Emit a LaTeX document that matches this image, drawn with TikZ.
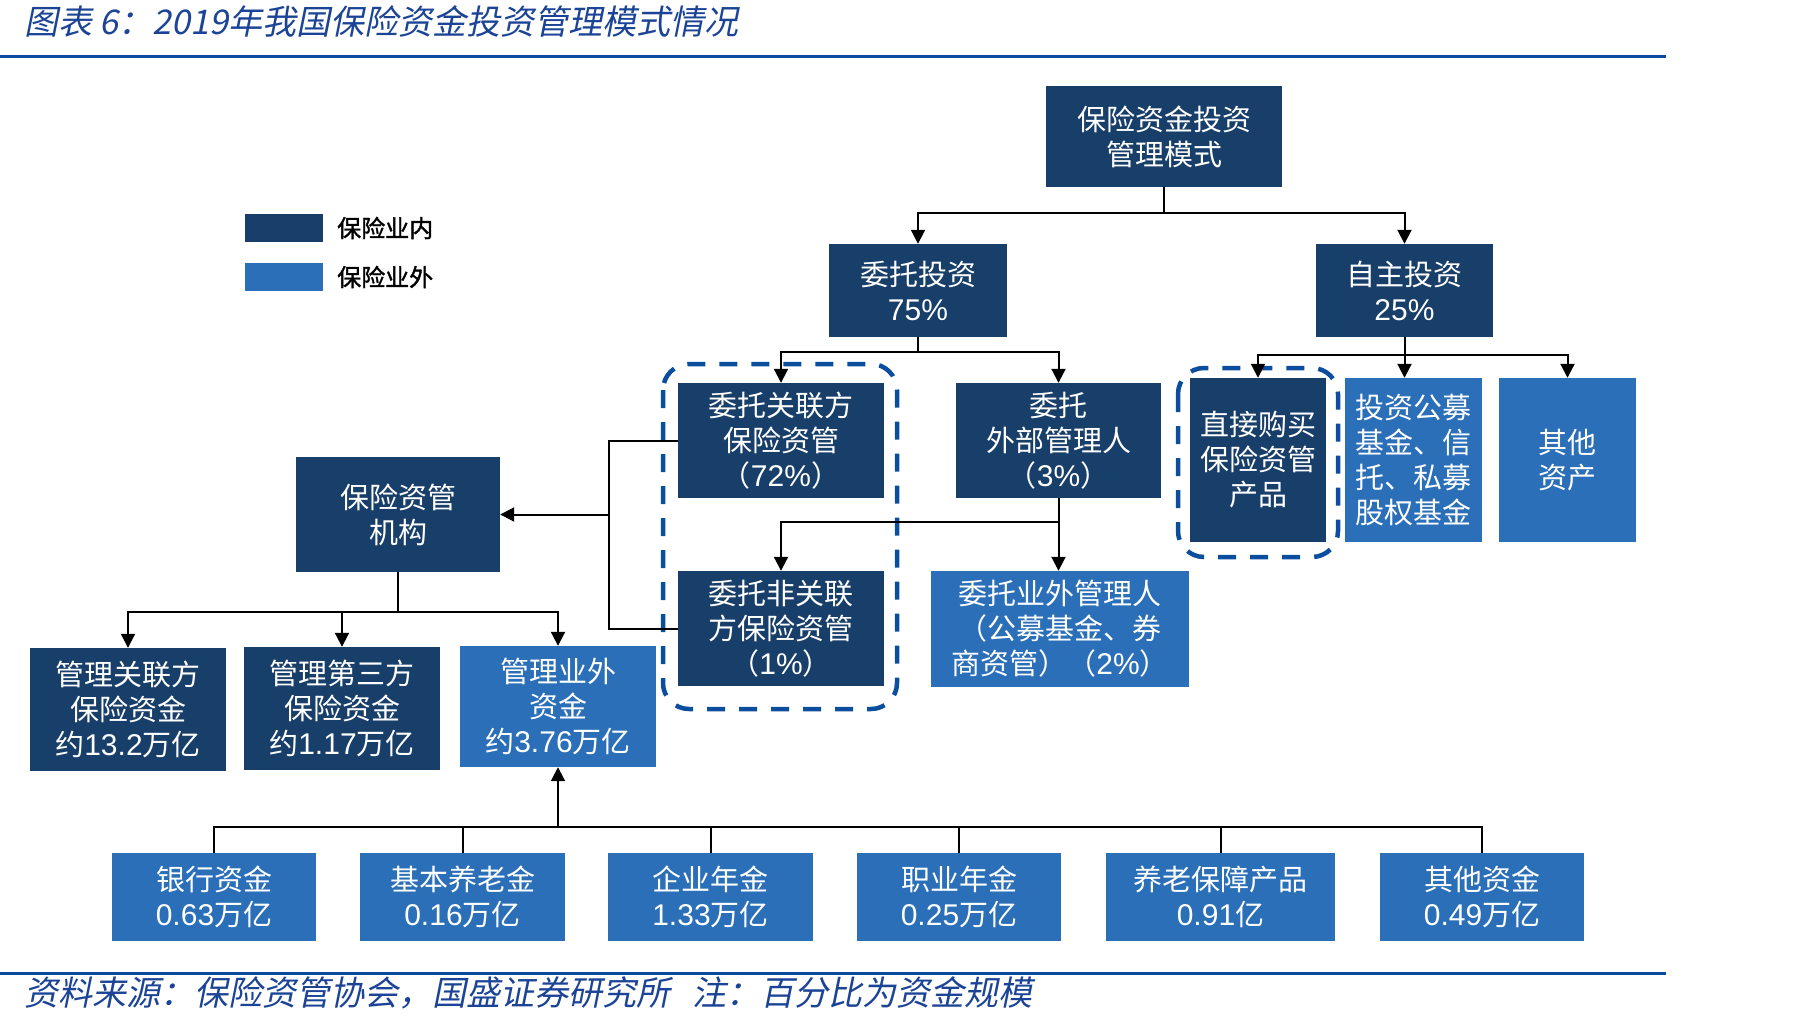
\documentclass[tikz,border=0pt]{standalone}
\usepackage{fontspec}
\setmainfont{Noto Sans CJK SC}
\newfontfamily\arialf{Liberation Sans}
\newfontfamily\titlefont[FakeSlant=0.2]{Noto Sans CJK SC}
\newfontfamily\legendfont[FakeBold=1.5]{Noto Sans CJK SC}
\usetikzlibrary{arrows.meta}
\definecolor{darkb}{RGB}{24,62,106}
\definecolor{lightb}{RGB}{42,111,184}
\definecolor{dashb}{RGB}{12,78,158}
\definecolor{titleb}{RGB}{28,68,150}
\definecolor{ruleb}{RGB}{10,74,156}
\newcommand\num[1]{{\arialf\fontsize{30}{35}\selectfont #1}}
% \bx{name}{style}{x1}{y1}{x2}{y2}{text}
\newcommand\bx[7]{\node[#2, minimum width={(#5-#3)*1pt}, minimum height={(#6-#4)*1pt}] (#1) at ({(#3+#5)/2},{(#4+#6)/2}) {#7};}
\begin{document}
\begin{tikzpicture}[x=1pt,y=-1pt,
  boxbase/.style={rectangle, inner sep=0pt, text=white, align=center, font=\fontsize{29}{35}\selectfont},
  darkbox/.style={boxbase, fill=darkb},
  lightbox/.style={boxbase, fill=lightb},
  conn/.style={line width=2pt, black},
  arr/.style={conn, -{Triangle[width=14pt,length=14pt]}},
  dashbox/.style={dashb, line width=4.5pt, dash pattern=on 18pt off 14pt, rounded corners=26pt},
  legtext/.style={anchor=west, inner sep=0pt, text=black, font=\legendfont\fontsize{24}{24}\selectfont}
]
\useasboundingbox (0,0) rectangle (1808,1023);

% title and rules
\node[anchor=west, inner sep=0pt, text=titleb, font=\titlefont\fontsize{34}{34}\selectfont] (title) at (24,21) {图表 6：2019年我国保险资金投资管理模式情况};
\draw[ruleb, line width=3pt] (0,56) -- (1666,56);
\draw[ruleb, line width=3pt] (0,973) -- (1666,973);
\node[anchor=west, inner sep=0pt, text=titleb, font=\titlefont\fontsize{34}{34}\selectfont] (foot) at (24,993) {资料来源：保险资管协会，国盛证券研究所\hspace{22pt}注：百分比为资金规模};

% legend
\bx{lg1}{darkbox}{245}{214}{323}{242}{}
\bx{lg2}{lightbox}{245}{263}{323}{291}{}
\node[legtext] (lt1) at (337,228) {保险业内};
\node[legtext] (lt2) at (337,277) {保险业外};

% boxes
\bx{root}{darkbox}{1046}{86}{1282}{187}{保险资金投资\\管理模式}
\bx{wt}{darkbox}{829}{244}{1007}{337}{委托投资\\\num{75\%}}
\bx{zz}{darkbox}{1316}{244}{1493}{337}{自主投资\\\num{25\%}}
\bx{glf}{darkbox}{678}{383}{884}{498}{委托关联方\\保险资管\\（\num{72\%}）}
\bx{wb}{darkbox}{956}{383}{1161}{498}{委托\\外部管理人\\（\num{3\%}）}
\bx{fglf}{darkbox}{678}{571}{884}{686}{委托非关联\\方保险资管\\（\num{1\%}）}
\bx{yw}{lightbox}{931}{571}{1189}{687}{委托业外管理人\\（公募基金、券\\商资管）（\num{2\%}）}
\bx{zj}{darkbox}{1190}{378}{1326}{542}{直接购买\\保险资管\\产品}
\bx{tz}{lightbox}{1345}{378}{1482}{542}{投资公募\\基金、信\\托、私募\\股权基金}
\bx{qt}{lightbox}{1499}{378}{1636}{542}{其他\\资产}
\bx{jg}{darkbox}{296}{457}{500}{572}{保险资管\\机构}
\bx{m1}{darkbox}{30}{648}{226}{771}{管理关联方\\保险资金\\约\num{13.2}万亿}
\bx{m2}{darkbox}{244}{647}{440}{770}{管理第三方\\保险资金\\约\num{1.17}万亿}
\bx{m3}{lightbox}{460}{646}{656}{767}{管理业外\\资金\\约\num{3.76}万亿}
\bx{b1}{lightbox}{112}{853}{316}{941}{银行资金\\\num{0.63}万亿}
\bx{b2}{lightbox}{360}{853}{565}{941}{基本养老金\\\num{0.16}万亿}
\bx{b3}{lightbox}{608}{853}{813}{941}{企业年金\\\num{1.33}万亿}
\bx{b4}{lightbox}{857}{853}{1061}{941}{职业年金\\\num{0.25}万亿}
\bx{b5}{lightbox}{1106}{853}{1335}{941}{养老保障产品\\\num{0.91}亿}
\bx{b6}{lightbox}{1380}{853}{1584}{941}{其他资金\\\num{0.49}万亿}

% dashed groups
\draw[dashbox] (663,364) rectangle (897,709);
\draw[dashbox] (1178,368) rectangle (1338,557);

% helper coordinates for connector levels
\coordinate (h1) at (0,213);
\coordinate (h2) at (0,352);
\coordinate (h3) at (0,355);
\coordinate (h4) at (0,522);
\coordinate (h5) at (0,612);
\coordinate (h6) at (0,827);
\coordinate (vx) at (609,0);

% root -> wt, zz
\draw[conn] (root.south) -- (root.south |- h1);
\draw[arr] (root.south |- h1) -| (wt.north);
\draw[arr] (root.south |- h1) -| (zz.north);
% wt -> glf, wb
\draw[conn] (wt.south) -- (wt.south |- h2);
\draw[arr] (wt.south |- h2) -| (glf.north);
\draw[arr] (wt.south |- h2) -| (wb.north);
% zz -> zj, tz, qt
\draw[arr] (zz.south) -- (zz.south |- tz.north);
\draw[arr] (zz.south |- h3) -| (zj.north);
\draw[arr] (zz.south |- h3) -| (qt.north);
% wb -> fglf, yw
\draw[arr] (wb.south) -- (wb.south |- yw.north);
\draw[arr] (wb.south |- h4) -| (fglf.north);
% glf, fglf -> jg
\draw[conn] (glf.west) -- (glf.west -| vx) -- (fglf.west -| vx) -- (fglf.west);
\draw[arr] (jg.east -| vx) -- (jg.east);
% jg -> m1, m2, m3
\draw[conn] (jg.south) -- (jg.south |- h5);
\draw[arr] (jg.south |- h5) -| (m1.north);
\draw[arr] (jg.south |- h5) -| (m2.north);
\draw[arr] (jg.south |- h5) -| (m3.north);
% bottom sources -> m3
\draw[conn] (b1.north) |- (b6.north |- h6) -- (b6.north);
\draw[conn] (b2.north) -- (b2.north |- h6);
\draw[conn] (b3.north) -- (b3.north |- h6);
\draw[conn] (b4.north) -- (b4.north |- h6);
\draw[conn] (b5.north) -- (b5.north |- h6);
\draw[arr] (m3.south |- h6) -- (m3.south);
\end{tikzpicture}
\end{document}
